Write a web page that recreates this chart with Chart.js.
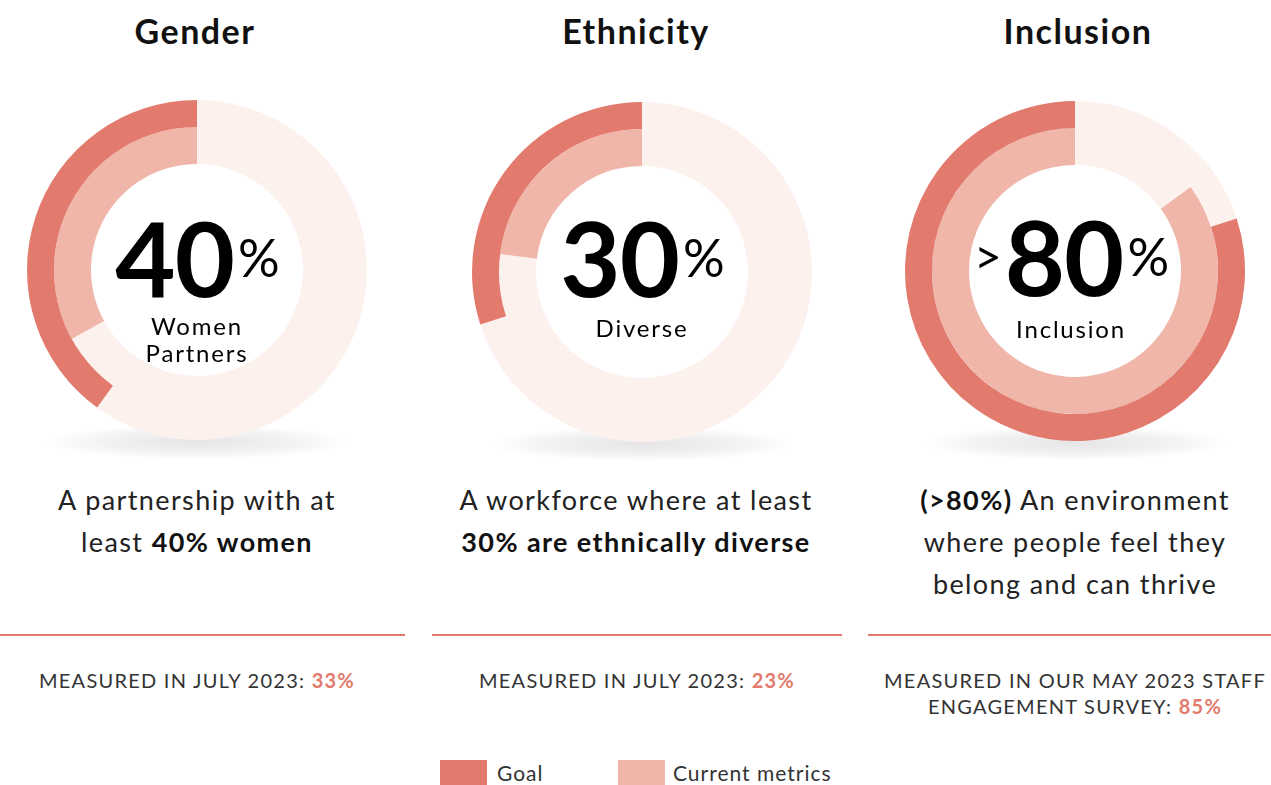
<!DOCTYPE html>
<html>
<head>
<meta charset="utf-8">
<script src="https://cdn.jsdelivr.net/npm/chart.js@4"></script>
<style>
  html, body { margin:0; padding:0; background:#fff; }
  body { width:1271px; height:785px; position:relative; overflow:hidden; font-family: Lato, "Noto Sans", sans-serif; color:#222; }
  .abs { position:absolute; }
  .title { font-size:34px; font-weight:700; color:#111; text-align:center; width:400px; top:10px; letter-spacing:1.5px; }
  .chartbox { width:340px; height:340px; }
  .shadow { width:300px; height:34px; border-radius:50%; background:radial-gradient(ellipse at center, rgba(0,0,0,0.10) 0%, rgba(0,0,0,0.05) 45%, rgba(0,0,0,0) 72%); }
  .center { width:240px; text-align:center; color:#000; }
  .big { font-size:104px; font-weight:700; line-height:1; letter-spacing:-1px; display:flex; justify-content:center; align-items:center; }
  .big .pct { font-size:52px; font-weight:400; margin-left:4px; }
  .big .gt { font-size:48px; font-weight:400; margin-right:4px; }
  .sub { font-size:24px; line-height:27px; margin-top:3px; letter-spacing:1.8px; }
  .desc { font-size:27px; line-height:42px; text-align:center; width:440px; color:#222; letter-spacing:1.4px; }
  .desc b { font-weight:700; color:#111; }
  .rule { height:2px; background:#e27b6e; top:634px; }
  .meas { font-size:20px; line-height:26px; text-align:center; width:440px; color:#333; letter-spacing:1.25px; }
  .meas b { color:#e27b6e; font-weight:700; }
  .legend { top:760px; left:440px; display:flex; align-items:center; font-size:21px; color:#333; letter-spacing:1px; }
  .sw { width:47px; height:25px; display:inline-block; }
</style>
</head>
<body>
<div id="root"></div>
<script>
const categories = ['Gender', 'Ethnicity', 'Inclusion'];
const goalValues = [40, 30, 80];
const currentValues = [33, 23, 85];
const centerPrefix = ['', '', '>'];
const centerLabels = [['Women', 'Partners'], ['Diverse'], ['Inclusion']];
const descriptions = [
  'A partnership with at<br>least <b>40% women</b>',
  'A workforce where at least<br><b>30% are ethnically diverse</b>',
  '<b>(&gt;80%)</b> An environment<br>where people feel they<br>belong and can thrive'
];
const measuredText = ['MEASURED IN JULY 2023:', 'MEASURED IN JULY 2023:', 'MEASURED IN OUR MAY 2023 STAFF<br>ENGAGEMENT SURVEY:'];
const legendLabels = ['Goal', 'Current metrics'];

const goalColor = '#e27b6e';
const currentColor = '#efb6a9';
const restColor = '#fdf1ee';

const centersX = [197, 642, 1075];
const centersY = [270, 272, 271];
const titleX = [195, 636, 1078];
const descX = [197, 636, 1075];
const measX = [197, 637, 1075];
const subShift = [0, 2, 4];
const ruleSpans = [[0, 405], [432, 842], [868, 1271]];
const root = document.getElementById('root');

function el(cls, style, html) {
  const d = document.createElement('div');
  d.className = 'abs ' + cls;
  Object.assign(d.style, style);
  if (html !== undefined) d.innerHTML = html;
  root.appendChild(d);
  return d;
}

categories.forEach((cat, i) => {
  const cx = centersX[i], cy = centersY[i];
  el('title', { left: (titleX[i] - 200) + 'px' }, cat);
  el('shadow', { left: (cx - 150) + 'px', top: (cy + 155) + 'px' });
  const box = el('chartbox', { left: (cx - 170) + 'px', top: (cy - 170) + 'px' });
  const cv = document.createElement('canvas');
  cv.width = 340; cv.height = 340;
  box.appendChild(cv);
  new Chart(cv, {
    type: 'doughnut',
    data: {
      labels: ['Remaining', legendLabels[0]],
      datasets: [
        { label: legendLabels[0], data: [100 - goalValues[i], goalValues[i]], backgroundColor: [restColor, goalColor], borderWidth: 0, weight: 27 },
        { label: legendLabels[1], data: [100 - currentValues[i], currentValues[i]], backgroundColor: [restColor, currentColor], borderWidth: 0, weight: 37 }
      ]
    },
    options: {
      responsive: false,
      animation: false,
      cutout: 106,
      rotation: 0,
      layout: { padding: 0 },
      plugins: { legend: { display: false }, tooltip: { enabled: false } }
    }
  });
  const c = el('center', { left: (cx - 120 + (i === 2 ? -4 : 0)) + 'px', top: (cy - 65 + (i === 0 ? 0 : -2)) + 'px' });
  c.innerHTML = '<div class="big">' + (centerPrefix[i] ? '<span class="gt">' + centerPrefix[i] + '</span>' : '') +
    '<span>' + goalValues[i] + '</span><span class="pct">%</span></div>' +
    '<div class="sub" style="margin-top:' + (3 + subShift[i]) + 'px">' + centerLabels[i].join('<br>') + '</div>';
  el('desc', { left: (descX[i] - 220) + 'px', top: '479px' }, descriptions[i]);
  const sp = ruleSpans[i];
  el('rule', { left: sp[0] + 'px', width: (sp[1] - sp[0]) + 'px' });
  el('meas', { left: (measX[i] - 220) + 'px', top: '667px' }, measuredText[i] + ' <b>' + currentValues[i] + '%</b>');
});

const lg = el('legend', {});
lg.innerHTML = '<span class="sw" style="background:' + goalColor + '"></span><span style="margin-left:10px;width:121px">' + legendLabels[0] + '</span>' +
  '<span class="sw" style="background:' + currentColor + '"></span><span style="margin-left:8px">' + legendLabels[1] + '</span>';
</script>
</body>
</html>
